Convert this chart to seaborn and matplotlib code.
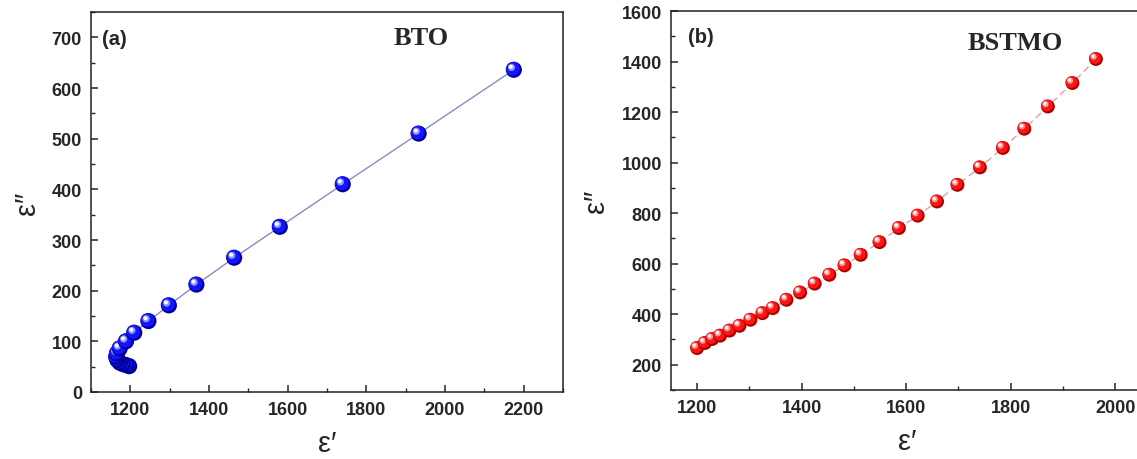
import matplotlib
matplotlib.use("Agg")
import matplotlib.pyplot as plt
import pandas as pd
import seaborn as sns
from matplotlib.ticker import MultipleLocator
from matplotlib.transforms import offset_copy

# Cole-Cole style data: real vs imaginary permittivity
bto_eps_real = [1197, 1190, 1181, 1173, 1167, 1164, 1166, 1173, 1189, 1210,
                1246, 1298, 1368, 1464, 1580, 1740, 1933, 2175]
bto_eps_imag = [51, 53, 55, 58, 63, 69, 76, 86, 100, 117,
                140, 171, 212, 265, 326, 410, 510, 636]

bstmo_eps_real = [1200, 1215, 1229, 1244, 1262, 1281, 1302, 1325, 1345, 1371,
                  1397, 1425, 1453, 1482, 1513, 1549, 1586, 1622, 1659, 1698,
                  1741, 1785, 1826, 1871, 1918, 1963]
bstmo_eps_imag = [266, 286, 302, 315, 335, 354, 378, 404, 424, 457,
                  486, 521, 556, 593, 635, 685, 741, 790, 846, 912,
                  981, 1058, 1134, 1222, 1315, 1410]

sns.set_style("ticks")
plt.rcParams["font.family"] = ["Liberation Sans", "DejaVu Sans"]

W, H = 1137, 460
fig = plt.figure(figsize=(W / 100, H / 100), dpi=100)
ax1 = fig.add_axes([91 / W, 67 / H, 472 / W, 380 / H])
ax2 = fig.add_axes([671 / W, 69 / H, 472 / W, 379 / H])


def shift_last(ax, dx, dy):
    coll = ax.collections[-1]
    coll.set_offset_transform(offset_copy(ax.transData, fig=fig, x=dx, y=dy, units="points"))


def spheres(ax, df, size, dark, base, light):
    # layered discs give a shaded ball look; each ball is finished before the next
    for i in range(len(df)):
        row = df.iloc[[i]]
        sns.scatterplot(data=row, x="x", y="y", ax=ax, s=size, color=dark,
                        edgecolor="none", linewidth=0, zorder=3)
        sns.scatterplot(data=row, x="x", y="y", ax=ax, s=size * 0.72, color=base,
                        edgecolor="none", linewidth=0, zorder=3)
        shift_last(ax, -0.7, 0.7)
        sns.scatterplot(data=row, x="x", y="y", ax=ax, s=size * 0.2, color=light,
                        edgecolor="none", linewidth=0, zorder=3, alpha=0.85)
        shift_last(ax, -1.7, 1.7)
        sns.scatterplot(data=row, x="x", y="y", ax=ax, s=size * 0.06, color="white",
                        edgecolor="none", linewidth=0, zorder=3)
        shift_last(ax, -2.1, 2.1)


bto = pd.DataFrame({"x": bto_eps_real, "y": bto_eps_imag})
bstmo = pd.DataFrame({"x": bstmo_eps_real, "y": bstmo_eps_imag})

sns.lineplot(data=bto, x="x", y="y", ax=ax1, sort=False, estimator=None,
             color="#8a8ac4", linewidth=1.0, zorder=2)
spheres(ax1, bto, 135, "#00009a", "#1414ff", "#9fb0ff")

sns.lineplot(data=bstmo, x="x", y="y", ax=ax2, sort=False, estimator=None,
             color="#e89aaa", linewidth=1.0, linestyle=(0, (5, 3)), zorder=2)
spheres(ax2, bstmo, 100, "#a80000", "#ff1414", "#ffb0b0")

label_family = ["Liberation Sans", "DejaVu Sans"]
for ax in (ax1, ax2):
    for sp in ax.spines.values():
        sp.set_linewidth(1.1)
        sp.set_color("#222222")
    ax.tick_params(which="major", direction="in", length=5, width=1.1,
                   pad=6.5, labelsize=13, top=False, right=False)
    ax.tick_params(which="minor", direction="in", length=3, width=1.0,
                   top=False, right=False)
    ax.set_xlabel("ε′", fontsize=21, family=label_family, labelpad=8)
    ax.set_ylabel("ε″", fontsize=21, family=label_family, labelpad=8)

ax1.set_xlim(1100, 2300)
ax1.set_ylim(0, 750)
ax1.xaxis.set_major_locator(MultipleLocator(200))
ax1.xaxis.set_minor_locator(MultipleLocator(100))
ax1.yaxis.set_major_locator(MultipleLocator(100))
ax1.yaxis.set_minor_locator(MultipleLocator(50))

ax2.set_xlim(1150, 2053)
ax2.set_ylim(100, 1600)
ax2.xaxis.set_major_locator(MultipleLocator(200))
ax2.xaxis.set_minor_locator(MultipleLocator(100))
ax2.yaxis.set_major_locator(MultipleLocator(200))
ax2.yaxis.set_minor_locator(MultipleLocator(100))

for ax in (ax1, ax2):
    for lab in ax.get_xticklabels() + ax.get_yticklabels():
        lab.set_fontweight("bold")

ax1.text(0.023, 0.93, "(a)", transform=ax1.transAxes, fontsize=14.5,
         fontweight="bold", va="center", ha="left")
ax1.text(0.70, 0.932, "BTO", transform=ax1.transAxes, fontsize=19,
         fontweight="bold", family=["Liberation Serif"], va="center", ha="center")
ax2.text(0.035, 0.933, "(b)", transform=ax2.transAxes, fontsize=14.5,
         fontweight="bold", va="center", ha="left")
ax2.text(0.73, 0.918, "BSTMO", transform=ax2.transAxes, fontsize=19,
         fontweight="bold", family=["Liberation Serif"], va="center", ha="center")

fig.savefig("out.png", dpi=100)
